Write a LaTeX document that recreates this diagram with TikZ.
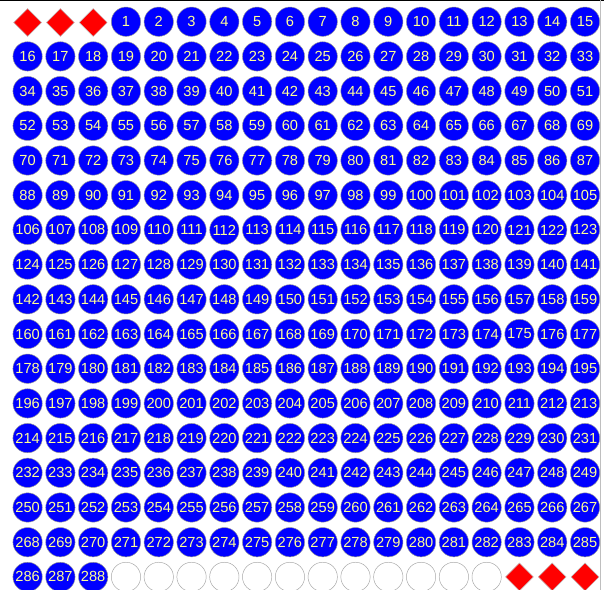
\documentclass[tikz,border=0pt]{standalone}
\usepackage{fontspec}
\setmainfont{Liberation Sans}
\usetikzlibrary{shapes.geometric}
\definecolor{seatblue}{RGB}{0,0,255}
\definecolor{seatnum}{RGB}{255,255,150}

\begin{document}
\begin{tikzpicture}[x=0.03cm, y=-0.03cm, every node/.style={font=\fontsize{12.5}{13}\selectfont}]
\tikzset{seat/.style={draw=gray!80, circle, minimum size=0.88cm, inner sep=0pt, fill=seatblue, text=seatnum}}
\tikzset{free/.style={draw=gray!70, circle, minimum size=0.88cm, inner sep=0pt, fill=white}}
\tikzset{blocked/.style={draw=gray!50, diamond, minimum size=0.84cm, inner sep=0pt, fill=red}}
\useasboundingbox (0,0) rectangle (604,590);
\fill[white] (0,0) rectangle (604,590);
\draw[line width=1.2pt] (0,0.6) -- (604,0.6);
\draw[gray!50] (600.5,0) -- (600.5,590);
\foreach \i in {0,1,2} {
  \node[blocked] (d\i) at (27.6+32.79*\i, 22.5) {};
}
\foreach \n in {1,...,288} {
  \pgfmathtruncatemacro\k{\n+2}
  \pgfmathtruncatemacro\row{\k/18}
  \pgfmathtruncatemacro\col{mod(\k,18)}
  \node[seat] (s\n) at (27.6+32.79*\col, 21.7+34.7*\row) {\n};
}
\foreach \i in {3,...,14} {
  \node[free] (e\i) at (27.6+32.79*\i, 576.9) {};
}
\foreach \i in {15,16,17} {
  \node[blocked] (d\i) at (27.6+32.79*\i, 576.9) {};
}
\end{tikzpicture}
\end{document}
